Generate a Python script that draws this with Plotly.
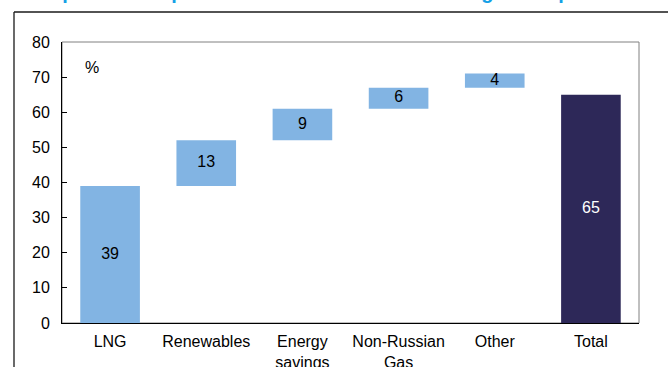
import plotly.graph_objects as go

# ---- data ----
categories = ["LNG", "Renewables", "Energy<br>savings", "Non-Russian<br>Gas", "Other", "Total"]
step_values = [39, 13, 9, 6, 4]
total_value = 65
y_ticks = [0, 10, 20, 30, 40, 50, 60, 70, 80]
unit_label = "%"
title_text = "The options to replace the whole Russian natural gas in April"

# derived
step_bases = []
acc = 0
for v in step_values:
    step_bases.append(acc)
    acc += v
values = step_values + [total_value]
bases = step_bases + [0]
colors = ["#82B4E3"] * len(step_values) + ["#2D2858"]
text_colors = ["#000000"] * len(step_values) + ["#FFFFFF"]

W, H = 668, 367
L, R, T, B = 62, 29, 42, 44
pw, ph = W - L - R, H - T - B
FS = 16
FONT = "Liberation Sans, Arial"

fig = go.Figure()
fig.add_trace(go.Bar(
    x=categories, y=values, base=bases,
    marker=dict(color=colors, line=dict(width=0)),
    width=0.62, hoverinfo="skip", showlegend=False,
))
fig.add_trace(go.Scatter(
    x=categories, y=[b + v / 2 for b, v in zip(bases, values)],
    mode="text", text=[str(v) for v in values],
    textfont=dict(family=FONT, size=FS, color=text_colors),
    hoverinfo="skip", showlegend=False,
))

# plot-area box (gray top/right)
fig.add_shape(type="rect", xref="paper", yref="paper", x0=0, x1=1, y0=0, y1=1,
              line=dict(color="#808080", width=1), layer="below")
# outer frame (left and top edges)
fx = (14 - L) / pw
fy = (ph + T - 12) / ph
fig.add_shape(type="line", xref="paper", yref="paper", x0=fx, x1=fx, y0=fy, y1=-B / ph - 0.05,
              line=dict(color="#1a1a1a", width=1.3))
fig.add_shape(type="line", xref="paper", yref="paper", x0=fx, x1=(W - L) / pw + 0.05, y0=fy, y1=fy,
              line=dict(color="#1a1a1a", width=1.3))

fig.add_annotation(text=unit_label, xref="paper", yref="y", x=(83 - L) / pw, y=72.8,
                   showarrow=False, font=dict(family=FONT, size=FS, color="#000"))
fig.add_annotation(text="<b>" + title_text + "</b>", xref="paper", yref="paper",
                   x=(7 - L) / pw, y=(ph + T + 8) / ph, xanchor="left", yanchor="middle",
                   showarrow=False, font=dict(family=FONT, size=20, color="#14A0E6"))

fig.update_layout(
    width=W, height=H,
    margin=dict(l=L, r=R, t=T, b=B, pad=0, autoexpand=False),
    plot_bgcolor="white", paper_bgcolor="white",
    bargap=0.38,
    font=dict(family=FONT, size=FS, color="#000"),
    xaxis=dict(showline=True, linecolor="#000", linewidth=1, ticks="", showgrid=False,
               tickfont=dict(size=FS), ticklabelstandoff=4, fixedrange=True, automargin=False),
    yaxis=dict(range=[0, 80], tickvals=y_ticks, showline=True, linecolor="#000", linewidth=1,
               ticks="inside", ticklen=5, tickcolor="#000", showgrid=False, zeroline=False,
               tickfont=dict(size=FS), ticklabelstandoff=8, fixedrange=True, automargin=False),
)

fig.write_html("out.html", config={"displayModeBar": False})
